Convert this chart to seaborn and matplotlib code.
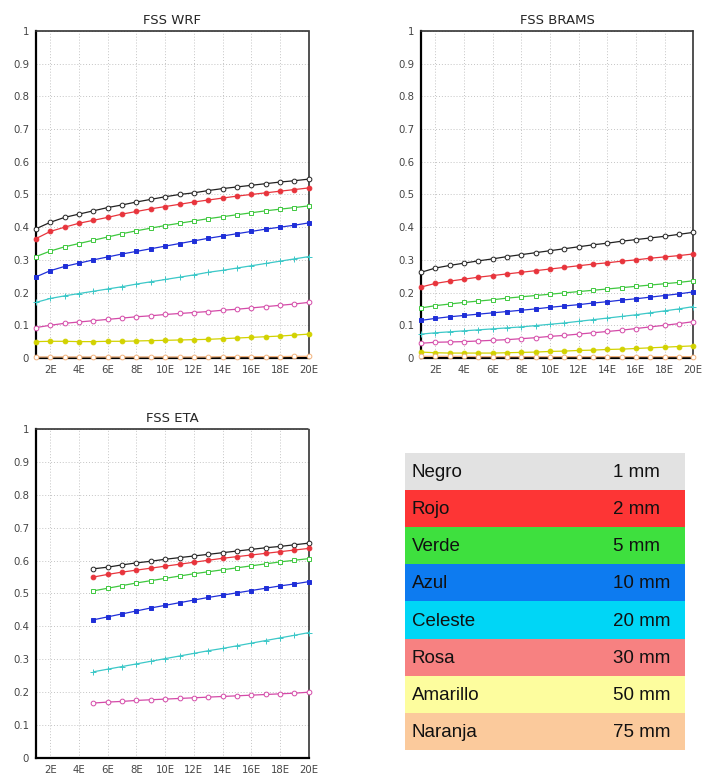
import numpy as np
import pandas as pd
import seaborn as sns
import matplotlib.pyplot as plt

sns.set_theme(style="white")
plt.rcParams['font.family'] = ['DejaVu Sans']

# forecast lead steps (1E..20E)
steps = list(range(1, 21))
steps_eta = list(range(5, 21))

series_names = ["Negro", "Rojo", "Verde", "Azul", "Celeste", "Rosa", "Amarillo", "Naranja"]
thresholds = ["1 mm", "2 mm", "5 mm", "10 mm", "20 mm", "30 mm", "50 mm", "75 mm"]
line_colors = ["#222222", "#e8343c", "#3fc83f", "#1f2fd8", "#3cc8c8", "#d44aa8", "#d2d200", "#f2b27c"]
table_colors = ["#e2e2e2", "#fd3535", "#3ee03e", "#0d7bf0", "#00d6f6", "#f78181", "#fdfd9e", "#fbca9c"]
markers = ["o", "o", "s", "s", "+", "o", "o", "o"]
filled = [False, True, False, True, True, False, True, False]

wrf = {
    "Negro": [0.395, 0.415, 0.43, 0.44, 0.45, 0.46, 0.468, 0.477, 0.485, 0.493, 0.5, 0.505, 0.512, 0.518, 0.523, 0.528, 0.533, 0.538, 0.542, 0.547],
    "Rojo": [0.365, 0.387, 0.40, 0.412, 0.421, 0.43, 0.44, 0.448, 0.456, 0.463, 0.47, 0.477, 0.483, 0.489, 0.495, 0.5, 0.505, 0.51, 0.515, 0.52],
    "Verde": [0.31, 0.327, 0.34, 0.35, 0.36, 0.37, 0.38, 0.389, 0.397, 0.405, 0.412, 0.419, 0.426, 0.432, 0.438, 0.444, 0.45, 0.455, 0.46, 0.465],
    "Azul": [0.248, 0.267, 0.28, 0.29, 0.3, 0.309, 0.318, 0.326, 0.334, 0.342, 0.35, 0.358, 0.366, 0.373, 0.38, 0.387, 0.394, 0.4, 0.406, 0.413],
    "Celeste": [0.17, 0.182, 0.19, 0.197, 0.204, 0.211, 0.218, 0.226, 0.233, 0.24, 0.247, 0.254, 0.262, 0.268, 0.275, 0.282, 0.289, 0.296, 0.303, 0.31],
    "Rosa": [0.093, 0.1, 0.106, 0.11, 0.114, 0.118, 0.122, 0.126, 0.129, 0.133, 0.136, 0.139, 0.142, 0.146, 0.149, 0.153, 0.157, 0.161, 0.165, 0.17],
    "Amarillo": [0.05, 0.051, 0.051, 0.05, 0.05, 0.051, 0.051, 0.052, 0.053, 0.054, 0.055, 0.056, 0.057, 0.059, 0.061, 0.063, 0.065, 0.067, 0.07, 0.073],
    "Naranja": [0.003, 0.003, 0.003, 0.003, 0.003, 0.003, 0.003, 0.003, 0.003, 0.003, 0.003, 0.003, 0.003, 0.004, 0.004, 0.004, 0.004, 0.004, 0.005, 0.005],
}

brams = {
    "Negro": [0.262, 0.275, 0.283, 0.29, 0.297, 0.303, 0.31, 0.316, 0.322, 0.328, 0.334, 0.34, 0.346, 0.351, 0.357, 0.362, 0.367, 0.372, 0.378, 0.384],
    "Rojo": [0.217, 0.228, 0.235, 0.241, 0.247, 0.252, 0.257, 0.262, 0.267, 0.272, 0.277, 0.282, 0.287, 0.291, 0.296, 0.3, 0.305, 0.309, 0.313, 0.318],
    "Verde": [0.153, 0.16, 0.165, 0.17, 0.174, 0.178, 0.183, 0.187, 0.191, 0.195, 0.199, 0.203, 0.207, 0.211, 0.215, 0.219, 0.223, 0.227, 0.231, 0.236],
    "Azul": [0.115, 0.121, 0.126, 0.13, 0.134, 0.138, 0.142, 0.146, 0.15, 0.155, 0.159, 0.163, 0.168, 0.172, 0.177, 0.181, 0.186, 0.191, 0.196, 0.202],
    "Celeste": [0.073, 0.077, 0.08, 0.083, 0.086, 0.089, 0.092, 0.095, 0.099, 0.103, 0.107, 0.112, 0.117, 0.122, 0.127, 0.132, 0.138, 0.144, 0.15, 0.157],
    "Rosa": [0.045, 0.048, 0.049, 0.05, 0.052, 0.054, 0.056, 0.059, 0.062, 0.066, 0.069, 0.073, 0.077, 0.081, 0.085, 0.09, 0.095, 0.1, 0.105, 0.111],
    "Amarillo": [0.018, 0.016, 0.015, 0.015, 0.015, 0.015, 0.016, 0.017, 0.018, 0.02, 0.021, 0.023, 0.024, 0.026, 0.027, 0.029, 0.031, 0.033, 0.035, 0.037],
    "Naranja": [0.005, 0.005, 0.005, 0.005, 0.004, 0.004, 0.004, 0.004, 0.004, 0.004, 0.004, 0.004, 0.004, 0.004, 0.004, 0.004, 0.004, 0.004, 0.004, 0.004],
}

eta = {
    "Negro": [0.575, 0.58, 0.587, 0.593, 0.598, 0.604, 0.609, 0.614, 0.619, 0.624, 0.629, 0.634, 0.639, 0.643, 0.648, 0.653],
    "Rojo": [0.55, 0.558, 0.565, 0.571, 0.577, 0.583, 0.589, 0.595, 0.601, 0.607, 0.612, 0.617, 0.622, 0.627, 0.632, 0.637],
    "Verde": [0.508, 0.516, 0.524, 0.532, 0.539, 0.546, 0.553, 0.56, 0.566, 0.572, 0.578, 0.584, 0.59, 0.596, 0.601, 0.606],
    "Azul": [0.42, 0.429, 0.438, 0.447, 0.456, 0.464, 0.472, 0.48, 0.488, 0.495, 0.502, 0.509, 0.516, 0.523, 0.529, 0.536],
    "Celeste": [0.262, 0.27, 0.278, 0.286, 0.294, 0.302, 0.31, 0.318, 0.326, 0.333, 0.341, 0.349, 0.357, 0.365, 0.373, 0.381],
    "Rosa": [0.167, 0.17, 0.172, 0.175, 0.177, 0.179, 0.181, 0.183, 0.185, 0.187, 0.189, 0.191, 0.193, 0.195, 0.197, 0.2],
}

yticks = [0, 0.1, 0.2, 0.3, 0.4, 0.5, 0.6, 0.7, 0.8, 0.9, 1]
ytick_labels = ["0", "0.1", "0.2", "0.3", "0.4", "0.5", "0.6", "0.7", "0.8", "0.9", "1"]
xticks = [2, 4, 6, 8, 10, 12, 14, 16, 18, 20]
xtick_labels = [f"{t}E" for t in xticks]


def fss_panel(ax, data, x, title):
    for i, name in enumerate(series_names):
        if name not in data:
            continue
        c = line_colors[i]
        sns.lineplot(x=x, y=data[name], ax=ax, color=c, lw=0.9, marker=markers[i],
                     markersize=3.4 if markers[i] != "+" else 4,
                     markerfacecolor=c if filled[i] else "white",
                     markeredgecolor=c, markeredgewidth=0.7, clip_on=False, zorder=3)
    ax.set_xlim(1, 20)
    ax.set_ylim(0, 1)
    ax.set_xticks(xticks)
    ax.set_xticklabels(xtick_labels)
    ax.set_yticks(yticks)
    ax.set_yticklabels(ytick_labels)
    ax.tick_params(labelsize=7.3, length=3, width=0.8, pad=2, colors="black", labelcolor="#444444")
    ax.grid(True, ls=(0, (1, 2)), color="#c4c4c4", lw=0.7)
    for s in ("left", "bottom"):
        ax.spines[s].set_linewidth(1.6)
        ax.spines[s].set_color("black")
    for s in ("top", "right"):
        ax.spines[s].set_linestyle((0, (1, 1)))
        ax.spines[s].set_linewidth(1.2)
        ax.spines[s].set_color("#333333")
    ax.set_title(title, fontsize=9.5, pad=5)
    ax.set_xlabel("")
    ax.set_ylabel("")


fig = plt.figure(figsize=(7.03, 7.76), dpi=100)

ax1 = fig.add_axes([0.0512, 0.5387, 0.388, 0.4214])
fss_panel(ax1, wrf, steps, "FSS WRF")

ax2 = fig.add_axes([0.599, 0.5387, 0.387, 0.4214])
fss_panel(ax2, brams, steps, "FSS BRAMS")

ax3 = fig.add_axes([0.0512, 0.0232, 0.388, 0.424])
fss_panel(ax3, eta, steps_eta, "FSS ETA")

# colour key table
ax4 = fig.add_axes([0.576, 0.0335, 0.398, 0.383])
key = pd.DataFrame({"name": series_names, "val": [1] * len(series_names)})
sns.barplot(data=key, y="name", x="val", hue="name", palette=table_colors,
            orient="h", width=1.0, ax=ax4, legend=False, saturation=1, linewidth=0)
ax4.set_xlim(0, 1)
ax4.set_ylim(len(series_names) - 0.5, -0.5)
for i, (n, t) in enumerate(zip(series_names, thresholds)):
    ax4.text(0.025, i + 0.03, n, fontsize=13.5, va="center", ha="left",
             family="Liberation Sans", color="#111111")
    ax4.text(0.743, i + 0.03, t, fontsize=13.5, va="center", ha="left",
             family="Liberation Sans", color="#111111")
ax4.axis("off")

plt.savefig("out.png", dpi=100)
